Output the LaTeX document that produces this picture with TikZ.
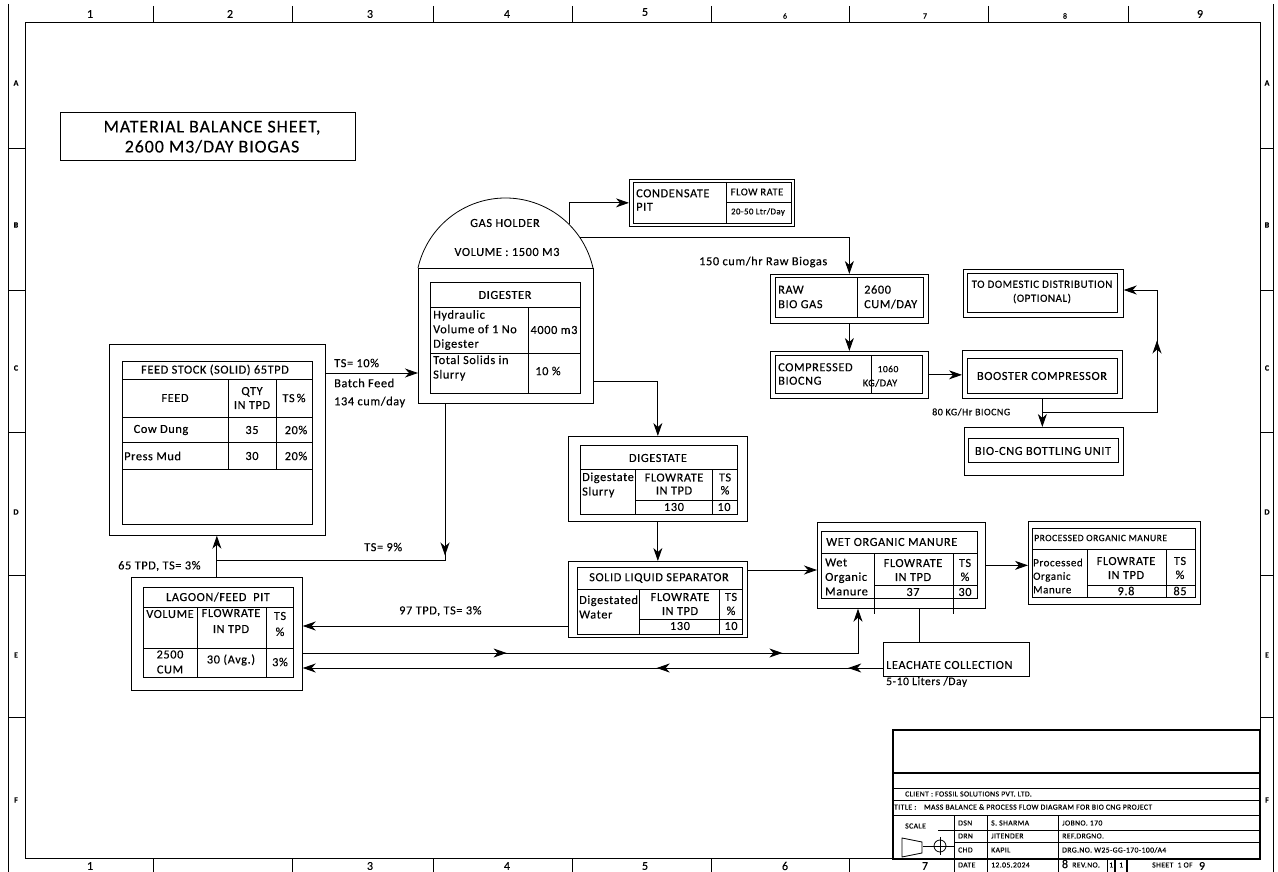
\documentclass[tikz,border=0pt]{standalone}
\usepackage{fontspec}
\setmainfont{Carlito}[LetterSpace=5, FakeBold=0.25]
\usetikzlibrary{arrows.meta,decorations.markings,calc}
\newcommand\ahd{\arrow{Stealth[length=13pt,width=9pt,inset=4pt]}}
\newcommand\fT{\fontsize{12.3}{13}\selectfont}
\begin{document}
\begin{tikzpicture}[x=1pt,y=-1pt,
  ob/.style={draw, line width=0.7pt, inner sep=0pt, anchor=north west},
  ib/.style={draw, line width=1.1pt, inner sep=0pt, anchor=north west},
  tl/.style={line width=0.9pt},
  cn/.style={line width=0.9pt},
  arr/.style={line width=0.9pt, -{Stealth[length=13pt,width=9pt,inset=4pt]}},
  tx/.style={inner sep=0pt, font=\fT},
  tw/.style={inner sep=0pt, font=\fT, anchor=west},
  ml/.style={inner sep=0pt, font=\fontsize{12.3}{14}\selectfont, align=center},
  mlw/.style={inner sep=0pt, font=\fontsize{12.3}{14.5}\selectfont, align=left, anchor=west},
  sm/.style={inner sep=0pt, font=\fontsize{7.7}{8}\selectfont, anchor=west},
  gn/.style={inner sep=0pt, font=\fontsize{12}{12}\selectfont},
  gs/.style={inner sep=0pt, font=\fontsize{8}{8}\selectfont},
  gl/.style={inner sep=0pt, font=\bfseries\fontsize{8}{8}\selectfont}
]
\useasboundingbox (0,0) rectangle (1278,872);
% ---------------- drawing frame ----------------
\draw[line width=0.8pt] (25,22) rectangle (1260,858);
\draw[line width=0.6pt] (8,4) -- (8,872);
\draw[line width=0.6pt] (1273,4) -- (1273,872);
\foreach \x in {153,292,433,572,711,849,988,1128} \draw[line width=0.6pt] (\x,6) -- (\x,22);
\foreach \x in {153,292,433,572,711,849} \draw[line width=0.6pt] (\x,858) -- (\x,872);
\foreach \y in {148,290,432,575,717} {\draw[line width=0.6pt] (8,\y) -- (25,\y); \draw[line width=0.6pt] (1260,\y) -- (1273,\y);}
\node[gn] (n1) at (90,14) {1};
\node[gn] (n2) at (230,14) {2};
\node[gn] (n3) at (370,14) {3};
\node[gn] (n4) at (507,14) {4};
\node[gn] (n5) at (645,12) {5};
\node[gs] (n6) at (785,16) {6};
\node[gs] (n7) at (925,16) {7};
\node[gs] (n8) at (1065,16) {8};
\node[gn] (n9) at (1200,14) {9};
\node[gn] (m1) at (90,866) {1};
\node[gn] (m3) at (370,866) {3};
\node[gn] (m4) at (507,866) {4};
\node[gn] (m5) at (645,866) {5};
\node[gn] (m6) at (785,866) {6};
\node[gn] (m7) at (925,866) {7};
\node[gn] (m8) at (1065,864) {8};
\node[gn] (m9) at (1202,866) {9};
\foreach \l/\y in {A/83,B/225,C/368,D/512,E/655,F/800} {\node[gl] (L\l) at (16,\y) {\l}; \node[gl] (R\l) at (1267,\y) {\l};}
% ---------------- title ----------------
\node[ob, line width=0.8pt, minimum width=295pt, minimum height=48pt] (titlebox) at (60,112) {};
\node[inner sep=0pt, font=\fontsize{18}{20}\selectfont, align=center] (titletext) at (212,137) {MATERIAL BALANCE SHEET,\\2600 M3/DAY BIOGAS};
% ---------------- feed stock ----------------
\node[ob, minimum width=216pt, minimum height=191pt] (feedo) at (109,344) {};
\node[ib, minimum width=190pt, minimum height=163pt] (feedi) at (122,361) {};
\draw[tl] (122,379) -- (312,379);
\draw[tl] (122,417) -- (312,417);
\draw[tl] (122,442) -- (312,442);
\draw[tl] (122,469) -- (312,469);
\draw[tl] (228,379) -- (228,469);
\draw[tl] (276,379) -- (276,469);
\node[tx] (f0) at (215,370) {FEED STOCK (SOLID) 65TPD};
\node[tx] (f1) at (175,398) {FEED};
\node[ml] (f2) at (252,398) {QTY\\IN TPD};
\node[tx] (f3) at (294,398) {TS\,\%};
\node[tx] (f4) at (161,430) {Cow Dung};
\node[tx] (f5) at (252,430) {35};
\node[tx] (f6) at (296,430) {20\%};
\node[tw] (f7) at (124,456) {Press Mud};
\node[tx] (f8) at (252,456) {30};
\node[tx] (f9) at (296,456) {20\%};
% ---------------- gas holder & digester ----------------
\draw[line width=0.8pt] plot[domain=192.7:347.3, samples=80] ({505.5+89.7*cos(\x)},{287.7+89.7*sin(\x)});
\coordinate (domeA) at (569,224.3);
\coordinate (domeB) at (579.5,237);
\node[tx] (g1) at (505,223) {GAS HOLDER};
\node[tx] (g2) at (507,252) {VOLUME : 1500 M3};
\node[ob, minimum width=175pt, minimum height=135pt] (digo) at (418,268) {};
\node[ib, minimum width=150pt, minimum height=111pt] (digi) at (430,282) {};
\draw[tl] (430,307) -- (580,307);
\draw[tl] (430,353) -- (580,353);
\draw[tl] (528,307) -- (528,393);
\node[tx] (d0) at (505,295) {DIGESTER};
\node[mlw] (d1) at (433,330) {Hydraulic\\Volume of 1 No\\Digester};
\node[tx] (d2) at (554,330) {4000 m3};
\node[mlw] (d3) at (433,368) {Total Solids in\\Slurry};
\node[tx] (d4) at (548,371) {10 \%};
% ---------------- condensate pit ----------------
\node[ob, minimum width=165pt, minimum height=47pt] (cond) at (629,179) {};
\node[ib, minimum width=158pt, minimum height=41pt] (condi) at (633,182) {};
\draw[tl] (726,182) -- (726,223);
\draw[tl] (726,202) -- (791,202);
\node[mlw, font=\fontsize{12.3}{13.5}\selectfont] (c1) at (636,200) {CONDENSATE\\PIT};
\node[inner sep=0pt, font=\fontsize{10.5}{10}\selectfont] (c2) at (757,192) {FLOW RATE};
\node[inner sep=0pt, font=\fontsize{8.8}{9}\selectfont] (c3) at (758,212) {20-50 Ltr/Day};
% ---------------- raw biogas ----------------
\node[ob, minimum width=158pt, minimum height=49pt] (raw) at (770,274) {};
\node[ib, minimum width=148pt, minimum height=40pt] (rawi) at (775,277) {};
\draw[tl] (857,277) -- (857,317);
\node[mlw] (r1) at (778,297) {RAW\\BIO GAS};
\node[mlw] (r2) at (864,297) {2600\\CUM/DAY};
% ---------------- compressed biocng ----------------
\node[ob, minimum width=158pt, minimum height=47pt] (comp) at (770,351) {};
\node[ib, minimum width=147pt, minimum height=38pt] (compi) at (775,355) {};
\draw[tl] (871,355) -- (871,393);
\node[mlw, font=\fontsize{12.3}{13.5}\selectfont] (k1) at (778,374) {COMPRESSED\\BIOCNG};
\node[inner sep=0pt, font=\fontsize{9.5}{9}\selectfont] (k2) at (888,369) {1060};
\node[inner sep=0pt, font=\fontsize{10.3}{10}\selectfont] (k3) at (880,383) {KG/DAY};
% ---------------- booster / bottling / domestic ----------------
\node[ob, minimum width=160pt, minimum height=48pt] (boost) at (962,350) {};
\node[ib, minimum width=150pt, minimum height=35pt] (boosti) at (967,358) {};
\node[tx] (b1t) at (1042,376) {BOOSTER COMPRESSOR};
\node[ob, minimum width=159pt, minimum height=48pt] (bott) at (964,427) {};
\node[ib, minimum width=150pt, minimum height=24pt] (botti) at (968,438) {};
\node[tx] (b2t) at (1043,451) {BIO-CNG BOTTLING UNIT};
\node[ob, minimum width=160pt, minimum height=48pt] (dom) at (963,269) {};
\node[ib, minimum width=150pt, minimum height=39pt] (domi) at (967,273) {};
\node[inner sep=0pt, font=\fontsize{11}{14}\selectfont, align=center] (b3t) at (1042,292) {TO DOMESTIC DISTRIBUTION\\(OPTIONAL)};
% ---------------- digestate ----------------
\node[ob, minimum width=179pt, minimum height=85pt] (dgs) at (568,436) {};
\node[ib, minimum width=157pt, minimum height=69pt] (dgsi) at (580,445) {};
\draw[tl] (580,469) -- (737,469);
\draw[tl] (635,469) -- (635,514);
\draw[tl] (712,469) -- (712,514);
\draw[tl] (635,500) -- (737,500);
\node[tx] (s0) at (658,458) {DIGESTATE};
\node[mlw] (s1) at (582,485) {Digestate\\Slurry};
\node[ml, font=\fontsize{12.3}{13}\selectfont] (s2) at (674,484) {FLOWRATE\\IN TPD};
\node[ml, font=\fontsize{12.3}{13}\selectfont] (s3) at (725,484) {TS\\\%};
\node[tx] (s4) at (674,507) {130};
\node[tx] (s5) at (724,507) {10};
% ---------------- solid liquid separator ----------------
\node[ob, minimum width=179pt, minimum height=76pt] (sep) at (568,561) {};
\node[ib, minimum width=165pt, minimum height=67pt] (sepi) at (577,567) {};
\draw[tl] (577,589) -- (742,589);
\draw[tl] (639,589) -- (639,634);
\draw[tl] (719,589) -- (719,634);
\draw[tl] (639,619) -- (742,619);
\node[tx] (p0) at (659,578) {SOLID LIQUID SEPARATOR};
\node[mlw] (p1) at (579,607) {Digestated\\Water};
\node[ml] (p2) at (680,604) {FLOWRATE\\IN TPD};
\node[ml] (p3) at (731,604) {TS\\\%};
\node[tx] (p4) at (680,626) {130};
\node[tx] (p5) at (731,626) {10};
% ---------------- wet organic manure ----------------
\node[ob, minimum width=168pt, minimum height=86pt] (wet) at (817,522) {};
\node[ib, minimum width=156pt, minimum height=67pt] (weti) at (821,531) {};
\draw[tl] (821,553) -- (977,553);
\draw[tl] (874,553) -- (874,614);
\draw[tl] (953,553) -- (953,614);
\draw[tl] (874,585) -- (977,585);
\node[tw] (w0) at (826,542) {WET ORGANIC MANURE};
\node[mlw] (w1) at (825,577) {Wet\\Organic\\Manure};
\node[ml] (w2) at (913,570) {FLOWRATE\\IN TPD};
\node[ml] (w3) at (965,570) {TS\\\%};
\node[tx] (w4) at (913,592) {37};
\node[tx] (w5) at (965,592) {30};
% ---------------- processed organic manure ----------------
\node[ob, minimum width=172pt, minimum height=83pt] (proc) at (1028,521) {};
\node[ib, minimum width=163pt, minimum height=69pt] (proci) at (1032,528) {};
\draw[tl] (1032,549) -- (1195,549);
\draw[tl] (1087,549) -- (1087,597);
\draw[tl] (1166,549) -- (1166,597);
\draw[tl] (1087,585) -- (1195,585);
\node[inner sep=0pt, font=\fontsize{9.6}{9}\selectfont, anchor=west] (o0) at (1034,538) {PROCESSED ORGANIC MANURE};
\node[inner sep=0pt, font=\fontsize{11}{13.5}\selectfont, align=left, anchor=west] (o1) at (1033,576) {Processed\\Organic\\Manure};
\node[ml] (o2) at (1126,568) {FLOWRATE\\IN TPD};
\node[ml] (o3) at (1180,568) {TS\\\%};
\node[tx] (o4) at (1126,591) {9.8};
\node[tx] (o5) at (1180,591) {85};
% ---------------- leachate ----------------
\node[ob, line width=0.9pt, minimum width=146pt, minimum height=34pt] (leach) at (883,642) {};
\node[tw, font=\fontsize{12.3}{13}\selectfont] (e1) at (886,665) {LEACHATE COLLECTION};
\node[tw, font=\fontsize{11.5}{12}\selectfont] (e2) at (886,682) {5-10 Liters /Day};
% ---------------- lagoon ----------------
\node[ob, minimum width=171pt, minimum height=113pt] (lag) at (131,577) {};
\node[ib, minimum width=150pt, minimum height=90pt] (lagi) at (143,587) {};
\draw[tl] (143,607) -- (293,607);
\draw[tl] (143,648) -- (293,648);
\draw[tl] (197,607) -- (197,677);
\draw[tl] (266,607) -- (266,677);
\node[tx] (a0) at (218,597) {LAGOON/FEED\ \ PIT};
\node[tx] (a1) at (170,614) {VOLUME};
\node[ml, font=\fontsize{12.3}{16}\selectfont] (a2) at (231,621) {FLOWRATE\\IN TPD};
\node[ml, font=\fontsize{12.3}{16}\selectfont] (a3) at (280,624) {TS\\\%};
\node[ml, font=\fontsize{12.3}{15}\selectfont] (a4) at (170,662) {2500\\CUM};
\node[tx] (a5) at (231,660) {30 (Avg.)};
\node[tx] (a6) at (280,662) {3\%};
% ---------------- connectors ----------------
\coordinate (f1c) at (370,373);
\draw[arr] (f1c -| feedo.east) -- (f1c -| digo.west);
\node[tw] (l1) at (334,363) {TS= 10\%};
\node[tw] (l2) at (334,383) {Batch Feed};
\node[tw] (l3) at (334,402) {134 cum/day};
\draw[arr] (domeA) |- (cond.west);
\draw[arr] (domeB) -| (raw.north);
\node[tw] (l4) at (699,262) {150 cum/hr Raw Biogas};
\draw[arr] (raw.south) -- (comp.north);
\draw[arr] (comp.east) -- (comp.east -| boost.west);
\draw[arr] (boost.south) -- (boost.south |- bott.north);
\coordinate (jn) at (1042,412);
\coordinate (rt) at (1157,412);
\coordinate (tr) at (1157,290);
\draw[arr, postaction={decorate}, decoration={markings, mark=at position 0.69 with {\ahd}}] (jn) -- (rt) -- (tr) -- (tr -| dom.east);
\node[inner sep=0pt, anchor=west, font=\fontsize{10}{10}\selectfont] (l5) at (932,412) {80 KG/Hr BIOCNG};
\coordinate (b1) at (658,381);
\draw[arr] (b1 -| digo.east) -| (dgs.north);
\draw[arr] (dgs.south) -- (dgs.south |- sep.north);
\coordinate (h1) at (780,570);
\draw[arr] (h1 -| sep.east) -- (h1 -| wet.west);
\draw[arr] (wet.east) -- (wet.east -| proc.west);
\coordinate (lc) at (919,620);
\draw[cn] (lc |- wet.south) -- (lc |- leach.north);
\coordinate (h97) at (400,626);
\draw[arr] (h97 -| sep.west) -- (h97 -| lag.east);
\node[tw] (l6) at (399,611) {97 TPD, TS= 3\%};
\coordinate (l1c) at (858,653);
\draw[arr, postaction={decorate}, decoration={markings, mark=at position 0.34 with {\ahd}, mark=at position 0.8 with {\ahd}}] (l1c -| lag.east) -- (l1c) -- (l1c |- wet.south);
\coordinate (l2c) at (600,668);
\draw[arr, postaction={decorate}, decoration={markings, mark=at position 0.06 with {\ahd}, mark=at position 0.39 with {\ahd}}] (l2c -| leach.west) -- (l2c -| lag.east);
\draw[arr] (lag.north) -- (lag.north |- feedo.south);
\node[tw] (l7) at (118,566) {65 TPD, TS= 3\%};
\coordinate (t9) at (445,560);
\coordinate (fj) at (217,560);
\draw[cn, postaction={decorate}, decoration={markings, mark=at position 0.395 with {\ahd}}] (t9 |- digo.south) -- (t9) -- (fj);
\node[tw] (l8) at (364,547) {TS= 9\%};
% ---------------- title block ----------------
\node[ob, line width=1.5pt, minimum width=367pt, minimum height=129pt] (tb) at (892,729) {};
\draw[line width=1.2pt] (892,773) -- (1259,773);
\draw[line width=0.5pt] (892,788) -- (1259,788);
\draw[line width=0.6pt] (892,800) -- (1259,800);
\draw[line width=0.6pt] (892,815) -- (1259,815);
\draw[line width=0.6pt] (938,830) -- (1259,830);
\draw[line width=0.6pt] (954,842) -- (1259,842);
\foreach \x in {954,987,1058} \draw[line width=0.6pt] (\x,815) -- (\x,872);
\draw[line width=0.6pt] (1107,858) -- (1107,872);
\draw[line width=1.2pt] (1115,858) -- (1115,872);
\draw[line width=1.2pt] (1127,858) -- (1127,872);
\node[sm] (tb1) at (905,794) {CLIENT : FOSSIL SOLUTIONS PVT. LTD.};
\node[sm] (tb2) at (894,807) {TITLE :\quad MASS BALANCE \& PROCESS FLOW DIAGRAM FOR BIO CNG PROJECT};
\node[sm] (tb3) at (905,826) {SCALE};
\node[sm] (tb4) at (958,823) {DSN};
\node[sm] (tb5) at (991,823) {S. SHARMA};
\node[sm] (tb6) at (1062,823) {JOBNO.\ 170};
\node[sm] (tb7) at (958,836) {DRN};
\node[sm] (tb8) at (991,836) {JITENDER};
\node[sm] (tb9) at (1062,836) {REF.DRGNO.};
\node[sm] (tb10) at (958,850) {CHD};
\node[sm] (tb11) at (991,850) {KAPIL};
\node[sm] (tb12) at (1062,850) {DRG.NO.\ W25-GG-170-100/A4};
\node[sm] (tb13) at (958,865) {DATE};
\node[sm] (tb14) at (991,865) {12.05.2024};
\node[sm] (tb15) at (1072,865) {REV.NO.};
\node[sm] (tb16) at (1109,865) {1};
\node[sm] (tb17) at (1119,865) {1};
\node[sm] (tb18) at (1152,865) {SHEET\ \ 1\ OF};
\draw[line width=0.8pt] (902,838) -- (922,842) -- (922,853) -- (902,857) -- cycle;
\draw[line width=0.8pt] (940,846) circle[radius=6];
\draw[line width=0.8pt] (923,846) -- (954,846);
\draw[line width=0.8pt] (940,837) -- (940,855);
\end{tikzpicture}
\end{document}
